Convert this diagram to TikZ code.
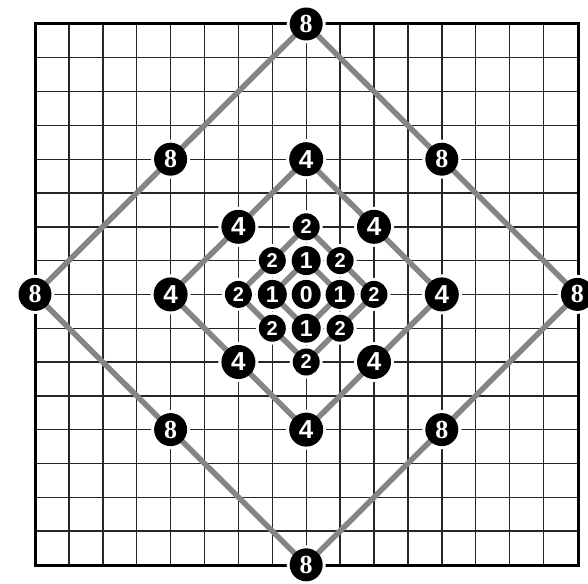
\documentclass[tikz,border=0pt]{standalone}
\usepackage{fontspec}
\newfontfamily\digsans{Liberation Sans}
\newfontfamily\digserif{Liberation Serif}
\pgfdeclarelayer{gridl}
\pgfdeclarelayer{halo}
\pgfdeclarelayer{grayl}
\pgfsetlayers{gridl,halo,grayl,main}
\tikzset{
  dot/.style={circle, fill=black, text=white, inner sep=0pt},
  d0/.style={dot, minimum size=29pt, font=\digsans\bfseries\fontsize{23}{23}\selectfont},
  d1/.style={dot, minimum size=29pt, font=\digsans\bfseries\fontsize{23}{23}\selectfont},
  d2/.style={dot, minimum size=27pt, font=\digsans\bfseries\fontsize{20}{20}\selectfont},
  d4/.style={dot, minimum size=34pt, font=\digsans\bfseries\fontsize{26}{26}\selectfont},
  d8/.style={dot, minimum size=33pt, font=\digserif\bfseries\fontsize{26}{26}\selectfont},
  gridline/.style={line width=1.4pt, draw=black!85},
  border/.style={line width=3pt, draw=black},
  diam/.style={line width=5.5pt, draw=black!48, line join=miter},
}
\begin{document}
\begin{tikzpicture}[x=1pt, y=-1pt]
\useasboundingbox (0,0) rectangle (588,583);
\def\cx{306.2}\def\cy{294.4}\def\ux{33.9}\def\uy{33.8}
% nodes
\node[d0] (n0) at (\cx,\cy) {0};
\foreach \k/\i/\j in {a/0/-1, b/1/0, c/0/1, d/-1/0}
  \node[d1] (n1\k) at ({\cx+\i*\ux},{\cy+\j*\uy}) {1};
\foreach \k/\i/\j in {a/0/-2, b/1/-1, c/2/0, d/1/1, e/0/2, f/-1/1, g/-2/0, h/-1/-1}
  \node[d2] (n2\k) at ({\cx+\i*\ux},{\cy+\j*\uy}) {2};
\foreach \k/\i/\j in {a/0/-4, b/2/-2, c/4/0, d/2/2, e/0/4, f/-2/2, g/-4/0, h/-2/-2}
  \node[d4] (n4\k) at ({\cx+\i*\ux},{\cy+\j*\uy}) {4};
\foreach \k/\i/\j in {a/0/-8, b/4/-4, c/8/0, d/4/4, e/0/8, f/-4/4, g/-8/0, h/-4/-4}
  \node[d8] (n8\k) at ({\cx+\i*\ux},{\cy+\j*\uy}) {8};
% grid
\begin{pgfonlayer}{gridl}
  \foreach \k in {1,...,15} {
    \draw[gridline] ({35+\k*\ux},24) -- ({35+\k*\ux},565);
    \draw[gridline] (35,{24+\k*\uy}) -- (578,{24+\k*\uy});
  }
  \draw[border] (35,24) rectangle (578,565);
\end{pgfonlayer}
% halos
\begin{pgfonlayer}{halo}
  \fill[white] (n0) circle[radius=17pt];
  \foreach \k in {a,b,c,d} \fill[white] (n1\k) circle[radius=17pt];
  \foreach \k in {a,b,c,d,e,f,g,h} {
    \fill[white] (n2\k) circle[radius=16.5pt];
    \fill[white] (n4\k) circle[radius=20pt];
    \fill[white] (n8\k) circle[radius=19.5pt];
  }
\end{pgfonlayer}
% diamonds
\begin{pgfonlayer}{grayl}
  \draw[diam] (n1a.center) -- (n1b.center) -- (n1c.center) -- (n1d.center) -- cycle;
  \draw[diam] (n2a.center) -- (n2b.center) -- (n2c.center) -- (n2d.center) -- (n2e.center) -- (n2f.center) -- (n2g.center) -- (n2h.center) -- cycle;
  \draw[diam] (n4a.center) -- (n4b.center) -- (n4c.center) -- (n4d.center) -- (n4e.center) -- (n4f.center) -- (n4g.center) -- (n4h.center) -- cycle;
  \draw[diam] (n8a.center) -- (n8b.center) -- (n8c.center) -- (n8d.center) -- (n8e.center) -- (n8f.center) -- (n8g.center) -- (n8h.center) -- cycle;
\end{pgfonlayer}
\end{tikzpicture}
\end{document}
